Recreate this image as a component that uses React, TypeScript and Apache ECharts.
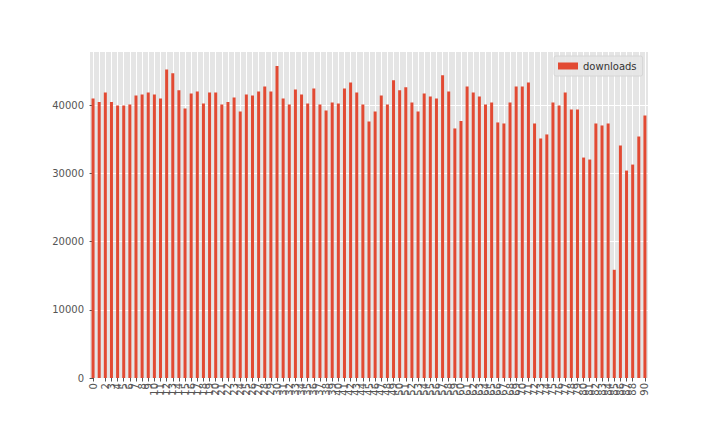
import * as echarts from 'echarts'
import { useEffect, useRef } from 'react'

const categories: number[] = Array.from({ length: 91 }, (_, i) => i)

const downloads: number[] = [
  41030, 40490, 41910, 40490, 40000, 40000, 40150, 41470, 41620, 41910,
  41620, 41030, 45290, 44710, 42210, 39560, 41760, 42060, 40290, 41910,
  41910, 40150, 40490, 41180, 39120, 41620, 41470, 42060, 42790, 42060,
  45780, 41030, 40150, 42350, 41620, 40290, 42500, 40150, 39260, 40440,
  40290, 42500, 43380, 41910, 40150, 37650, 39120, 41470, 40150, 43680,
  42210, 42650, 40440, 39120, 41760, 41320, 41030, 44410, 42060, 36620,
  37700, 42790, 41910, 41320, 40150, 40440, 37500, 37350, 40440, 42790,
  42790, 43380, 37350, 35150, 35740, 40440, 40000, 41910, 39410, 39410,
  32350, 32060, 37350, 37060, 37350, 15880, 34120, 30440, 31320, 35440,
  38530,
]

const yTicks: number[] = [0, 10000, 20000, 30000, 40000]

const FONT = 'DejaVu Sans'

export default function App() {
  const chartRef = useRef<HTMLDivElement>(null)

  useEffect(() => {
    if (!chartRef.current) return
    const chart = echarts.init(chartRef.current, null, { renderer: 'svg' })

    chart.setOption({
      animation: false,
      grid: {
        left: 90,
        right: 72,
        top: 52,
        bottom: 54,
        show: true,
        backgroundColor: '#e5e5e5',
        borderWidth: 0,
      },
      legend: {
        data: ['downloads'],
        left: 554,
        top: 56,
        icon: 'rect',
        itemWidth: 20,
        itemHeight: 7,
        padding: [5, 6, 5, 4],
        backgroundColor: 'rgba(229,229,229,0.9)',
        borderColor: '#d6d6d6',
        borderWidth: 1,
        borderRadius: 2,
        textStyle: { fontFamily: FONT, fontSize: 10, color: '#333' },
      },
      xAxis: {
        type: 'value',
        min: -0.5,
        max: 90.5,
        axisLine: { show: false },
        axisTick: {
          show: true,
          length: 3.5,
          lineStyle: { color: '#555' },
          customValues: categories,
        },
        axisLabel: {
          rotate: 90,
          fontFamily: FONT,
          fontSize: 10,
          color: '#555',
          margin: 5,
          hideOverlap: false,
          showMinLabel: true,
          showMaxLabel: true,
          customValues: categories,
          formatter: (v: number) => String(v),
        },
        splitLine: { show: true, lineStyle: { color: '#ffffff', width: 1 } },
      },
      yAxis: {
        type: 'value',
        min: 0,
        max: 47840,
        axisLine: { show: false },
        axisTick: {
          show: true,
          length: 3.5,
          lineStyle: { color: '#555' },
          customValues: yTicks,
        },
        axisLabel: {
          fontFamily: FONT,
          fontSize: 10,
          color: '#555',
          margin: 6,
          customValues: yTicks,
          formatter: (v: number) => String(v),
        },
        splitLine: { show: true, lineStyle: { color: '#ffffff', width: 1 } },
      },
      series: [
        {
          name: 'downloads',
          type: 'bar',
          data: downloads.map((v, i) => [categories[i], v]),
          barWidth: 3,
          itemStyle: { color: '#E24A33' },
        },
      ],
    })

    return () => {
      chart.dispose()
    }
  }, [])

  return (
    <div
      ref={chartRef}
      style={{ position: 'absolute', left: 0, top: 0, width: 720, height: 432 }}
    ></div>
  )
}
